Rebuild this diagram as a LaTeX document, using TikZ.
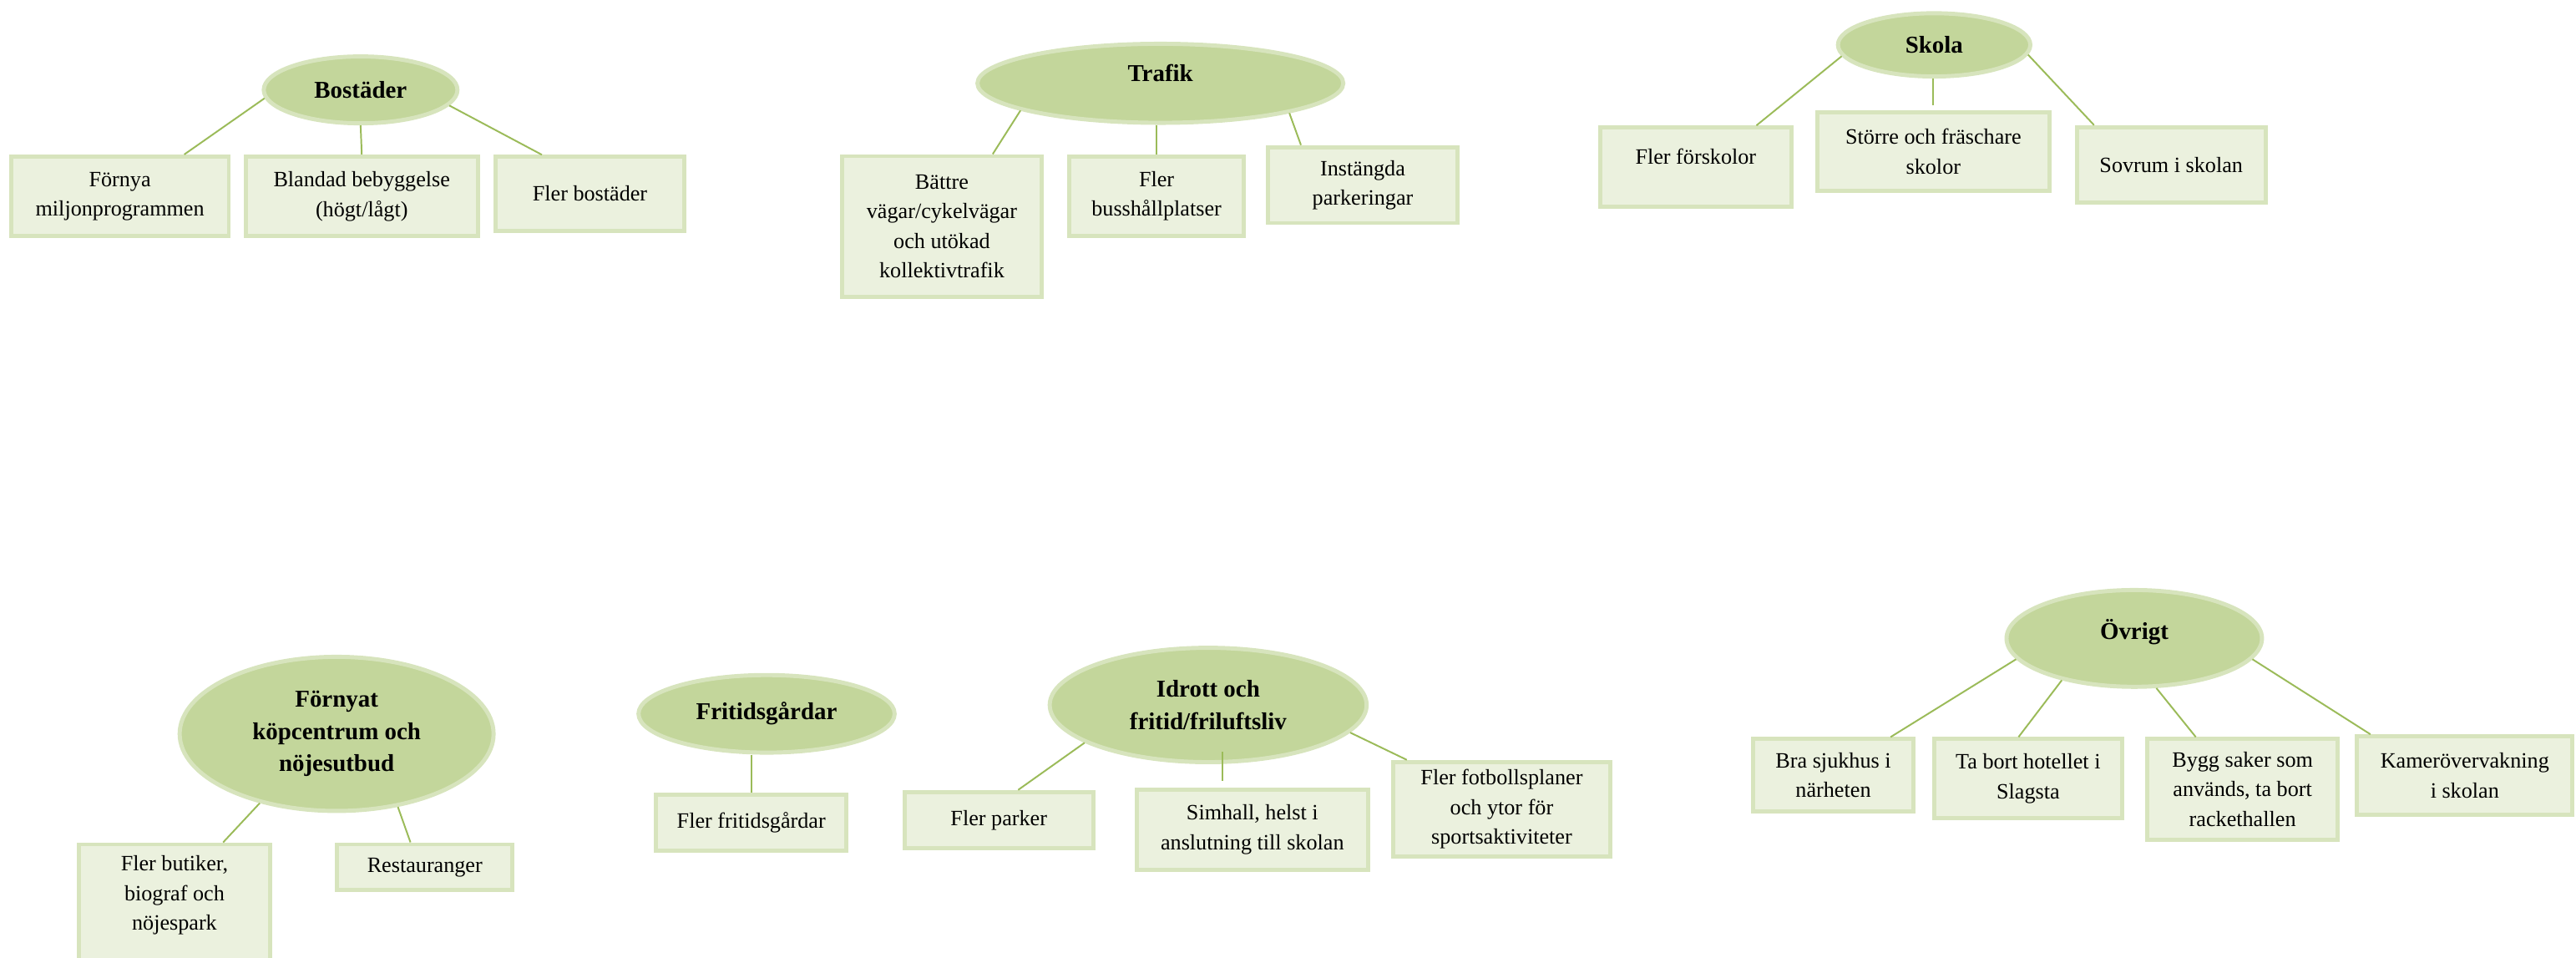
\documentclass[tikz,border=0pt]{standalone}
\usepackage{fontspec}
\setmainfont{Liberation Serif}
\usetikzlibrary{shapes.geometric,calc}
\definecolor{topicfill}{HTML}{C3D69B}
\definecolor{topicline}{HTML}{D7E4BD}
\definecolor{itemfill}{HTML}{EBF1DE}
\definecolor{itemline}{HTML}{D7E4BD}
\definecolor{linkcol}{HTML}{9BBB59}
\begin{document}
\begin{tikzpicture}[x=1pt,y=-1pt,
    dims/.style 2 args={minimum width=#1pt-2.5pt,minimum height=#2pt-2.5pt},
    topic/.style={ellipse,draw=topicline,fill=topicfill,line width=2.5pt,inner sep=0pt,
      align=center,font=\fontsize{14.7}{19.5}\selectfont\bfseries},
    item/.style={rectangle,draw=itemline,fill=itemfill,line width=2.5pt,inner sep=2pt,
      align=center,font=\fontsize{13.3}{18}\selectfont},
    link/.style={draw=linkcol,line width=1pt}]
  \useasboundingbox (0,0) rectangle (1568,582.5);

  \node[topic,dims={120.4}{43.2}] (bost) at (219.5,54.7) {Bostäder};
  \node[topic,dims={225.2}{50.6},text depth=13pt] (traf) at (706.3,50.7) {Trafik};
  \node[topic,dims={119.6}{41}] (skol) at (1177.3,27.3) {Skola};
  \node[topic,dims={193.6}{96.3}] (kop) at (204.9,446.6) {Förnyat\\köpcentrum och\\nöjesutbud};
  \node[topic,dims={158.4}{49.7}] (frit) at (466.6,434.4) {Fritidsgårdar};
  \node[topic,dims={195.4}{72.1}] (idro) at (735.4,429) {Idrott och\\fritid/friluftsliv};
  \node[topic,dims={158}{61.4},text depth=11pt] (ovri) at (1299.1,388.5) {Övrigt};

  \node[item,dims={135}{51}] (b1) at (73,119.5) {Förnya\\miljonprogrammen};
  \node[item,dims={144}{51}] (b2) at (220.2,119.5) {Blandad bebyggelse\\(högt/lågt)};
  \node[item,dims={117.2}{47.5}] (b3) at (359.1,117.9) {Fler bostäder};
  \node[item,dims={123.8}{88}] (t1) at (573.3,137.8) {Bättre\\vägar/cykelvägar\\och utökad\\kollektivtrafik};
  \node[item,dims={109}{50.5}] (t2) at (704,119.4) {Fler\\busshållplatser};
  \node[item,dims={117.6}{48.7}] (t3) at (829.5,112.6) {Instängda\\parkeringar};
  \node[item,dims={119.1}{50.9},text depth=13pt] (s1) at (1032.2,101.8) {Fler förskolor};
  \node[item,dims={143.9}{50.4}] (s2) at (1176.8,92.2) {Större och fräschare\\skolor};
  \node[item,dims={117.4}{48.5}] (s3) at (1321.6,100.4) {Sovrum i skolan};
  \node[item,dims={118.5}{75.4},text depth=14pt] (k1) at (106.2,550.3) {Fler butiker,\\biograf och\\nöjespark};
  \node[item,dims={109.4}{30.4}] (k2) at (258.6,527.8) {Restauranger};
  \node[item,dims={118.5}{36.5}] (f1) at (457.3,500.7) {Fler fritidsgårdar};
  \node[item,dims={117.3}{36.8}] (i1) at (608,499.1) {Fler parker};
  \node[item,dims={143.5}{51.3}] (i2) at (762.3,504.8) {Simhall, helst i\\anslutning till skolan};
  \node[item,dims={134.4}{60.2}] (i3) at (914.1,492.5) {Fler fotbollsplaner\\och ytor för\\sportsaktiviteter};
  \node[item,dims={99.7}{46.6}] (o1) at (1115.9,471.8) {Bra sjukhus i\\närheten};
  \node[item,dims={116.7}{50.6}] (o2) at (1234.5,473.8) {Ta bort hotellet i\\Slagsta};
  \node[item,dims={118.5}{63.6}] (o3) at (1365,480.3) {Bygg saker som\\används, ta bort\\rackethallen};
  \node[item,dims={133.6}{50.1}] (o4) at (1500.3,471.9) {Kamerövervakning\\i skolan};

  \begin{scope}[link]
    \draw (bost.185) -- ($(b1.north west)!.79!(b1.north east)$);
    \draw (bost.south) -- (b2.north);
    \draw (bost.350) -- ($(b3.north west)!.25!(b3.north east)$);
    \draw (traf.191) -- ($(t1.north west)!.75!(t1.north east)$);
    \draw (t2.north |- traf.south) -- (t2.north);
    \draw (traf.347) -- ($(t3.north west)!.18!(t3.north east)$);
    \draw (skol.187) -- ($(s1.north west)!.81!(s1.north east)$);
    \draw (s2.north |- skol.south) -- ([yshift=3pt]s2.north);
    \draw (skol.354) -- ($(s3.north west)!.1!(s3.north east)$);
    \draw (kop.222) -- ($(k1.north west)!.75!(k1.north east)$);
    \draw (kop.310) -- ($(k2.north west)!.42!(k2.north east)$);
    \draw (f1.north |- frit.south) -- (f1.north);
    \draw (idro.197) -- ($(i1.north west)!.6!(i1.north east)$);
    \draw ([xshift=8.6pt,yshift=7.5pt]idro.south) -- ([xshift=-18.3pt,yshift=4pt]i2.north);
    \draw (idro.349) -- ($(i3.north west)!.07!(i3.north east)$);
    \draw (ovri.190) -- ($(o1.north west)!.85!(o1.north east)$);
    \draw (ovri.210) -- ($(o2.north west)!.45!(o2.north east)$);
    \draw (ovri.294) -- ($(o3.north west)!.26!(o3.north east)$);
    \draw (ovri.350) -- ($(o4.north west)!.07!(o4.north east)$);
  \end{scope}
\end{tikzpicture}
\end{document}
